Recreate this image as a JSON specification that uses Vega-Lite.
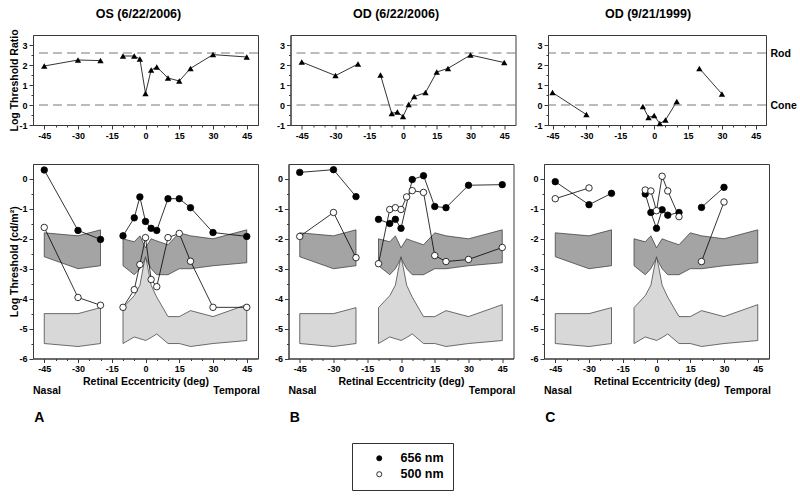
{
  "$schema": "https://vega.github.io/schema/vega-lite/v6.json",
  "padding": {"left": 8, "right": 2, "top": 7, "bottom": 2},
  "background": "white",
  "spacing": 22,
  "config": {
    "font": "Liberation Sans",
    "view": {"stroke": "#3a3a3a", "strokeWidth": 1},
    "axis": {"grid": false, "domainColor": "#3a3a3a", "tickColor": "#3a3a3a", "labelFont": "Liberation Sans", "labelFontWeight": "bold", "labelFontSize": 9, "labelColor": "#000", "titleFont": "Liberation Sans", "titleFontWeight": "bold", "titleFontSize": 10.5, "titleColor": "#000", "labelPadding": 2, "labelOverlap": false, "labelFlush": false},
    "title": {"font": "Liberation Sans", "fontWeight": "bold", "fontSize": 12.5, "color": "#000", "offset": 15, "frame": "group"},
    "text": {"font": "Liberation Sans", "fontWeight": "bold", "color": "#000"}
  },
  "datasets": {
    "ratio": [
      {"panel": "A", "seg": 1, "x": -45, "y": 1.95},
      {"panel": "A", "seg": 1, "x": -30, "y": 2.25},
      {"panel": "A", "seg": 1, "x": -20, "y": 2.22},
      {"panel": "A", "seg": 2, "x": -10, "y": 2.45},
      {"panel": "A", "seg": 2, "x": -5, "y": 2.45},
      {"panel": "A", "seg": 2, "x": -2.5, "y": 2.3},
      {"panel": "A", "seg": 2, "x": 0, "y": 0.58},
      {"panel": "A", "seg": 2, "x": 2.5, "y": 1.75},
      {"panel": "A", "seg": 2, "x": 5, "y": 1.9},
      {"panel": "A", "seg": 2, "x": 10, "y": 1.35},
      {"panel": "A", "seg": 2, "x": 15, "y": 1.2},
      {"panel": "A", "seg": 2, "x": 20, "y": 1.83},
      {"panel": "A", "seg": 2, "x": 30, "y": 2.52},
      {"panel": "A", "seg": 2, "x": 45, "y": 2.4},
      {"panel": "B", "seg": 1, "x": -45, "y": 2.15},
      {"panel": "B", "seg": 1, "x": -30, "y": 1.47},
      {"panel": "B", "seg": 1, "x": -20, "y": 2.05},
      {"panel": "B", "seg": 2, "x": -10, "y": 1.5},
      {"panel": "B", "seg": 2, "x": -5, "y": -0.42},
      {"panel": "B", "seg": 2, "x": -2.5, "y": -0.35},
      {"panel": "B", "seg": 2, "x": 0, "y": -0.57},
      {"panel": "B", "seg": 2, "x": 2.5, "y": 0.02},
      {"panel": "B", "seg": 2, "x": 5, "y": 0.42},
      {"panel": "B", "seg": 2, "x": 10, "y": 0.62},
      {"panel": "B", "seg": 2, "x": 15, "y": 1.65},
      {"panel": "B", "seg": 2, "x": 20, "y": 1.83},
      {"panel": "B", "seg": 2, "x": 30, "y": 2.5},
      {"panel": "B", "seg": 2, "x": 45, "y": 2.12},
      {"panel": "C", "seg": 1, "x": -45, "y": 0.62},
      {"panel": "C", "seg": 1, "x": -30, "y": -0.48},
      {"panel": "C", "seg": 2, "x": -5, "y": -0.07},
      {"panel": "C", "seg": 2, "x": -2.5, "y": -0.62},
      {"panel": "C", "seg": 2, "x": 0, "y": -0.53},
      {"panel": "C", "seg": 2, "x": 2.5, "y": -0.93},
      {"panel": "C", "seg": 2, "x": 5, "y": -0.75},
      {"panel": "C", "seg": 2, "x": 10, "y": 0.17},
      {"panel": "C", "seg": 3, "x": 20, "y": 1.83},
      {"panel": "C", "seg": 3, "x": 30, "y": 0.55}
    ],
    "thr": [
      {"panel": "A", "wave": "656 nm", "seg": 1, "x": -45, "y": 0.3},
      {"panel": "A", "wave": "656 nm", "seg": 1, "x": -30, "y": -1.72},
      {"panel": "A", "wave": "656 nm", "seg": 1, "x": -20, "y": -2.02},
      {"panel": "A", "wave": "656 nm", "seg": 2, "x": -10, "y": -1.9},
      {"panel": "A", "wave": "656 nm", "seg": 2, "x": -5, "y": -1.3},
      {"panel": "A", "wave": "656 nm", "seg": 2, "x": -2.5, "y": -0.6},
      {"panel": "A", "wave": "656 nm", "seg": 2, "x": 0, "y": -1.42},
      {"panel": "A", "wave": "656 nm", "seg": 2, "x": 2.5, "y": -1.65},
      {"panel": "A", "wave": "656 nm", "seg": 2, "x": 5, "y": -1.72},
      {"panel": "A", "wave": "656 nm", "seg": 2, "x": 10, "y": -0.66},
      {"panel": "A", "wave": "656 nm", "seg": 2, "x": 15, "y": -0.66},
      {"panel": "A", "wave": "656 nm", "seg": 2, "x": 20, "y": -0.96},
      {"panel": "A", "wave": "656 nm", "seg": 2, "x": 30, "y": -1.79},
      {"panel": "A", "wave": "656 nm", "seg": 2, "x": 45, "y": -1.92},
      {"panel": "A", "wave": "500 nm", "seg": 1, "x": -45, "y": -1.62},
      {"panel": "A", "wave": "500 nm", "seg": 1, "x": -30, "y": -3.96},
      {"panel": "A", "wave": "500 nm", "seg": 1, "x": -20, "y": -4.22},
      {"panel": "A", "wave": "500 nm", "seg": 2, "x": -10, "y": -4.29},
      {"panel": "A", "wave": "500 nm", "seg": 2, "x": -5, "y": -3.7},
      {"panel": "A", "wave": "500 nm", "seg": 2, "x": -2.5, "y": -2.86},
      {"panel": "A", "wave": "500 nm", "seg": 2, "x": 0, "y": -1.96},
      {"panel": "A", "wave": "500 nm", "seg": 2, "x": 2.5, "y": -3.36},
      {"panel": "A", "wave": "500 nm", "seg": 2, "x": 5, "y": -3.6},
      {"panel": "A", "wave": "500 nm", "seg": 2, "x": 10, "y": -1.96},
      {"panel": "A", "wave": "500 nm", "seg": 2, "x": 15, "y": -1.82},
      {"panel": "A", "wave": "500 nm", "seg": 2, "x": 20, "y": -2.75},
      {"panel": "A", "wave": "500 nm", "seg": 2, "x": 30, "y": -4.29},
      {"panel": "A", "wave": "500 nm", "seg": 2, "x": 45, "y": -4.29},
      {"panel": "B", "wave": "656 nm", "seg": 1, "x": -45, "y": 0.22},
      {"panel": "B", "wave": "656 nm", "seg": 1, "x": -30, "y": 0.31},
      {"panel": "B", "wave": "656 nm", "seg": 1, "x": -20, "y": -0.59},
      {"panel": "B", "wave": "656 nm", "seg": 2, "x": -10, "y": -1.35},
      {"panel": "B", "wave": "656 nm", "seg": 2, "x": -5, "y": -1.49},
      {"panel": "B", "wave": "656 nm", "seg": 2, "x": -2.5, "y": -1.35},
      {"panel": "B", "wave": "656 nm", "seg": 2, "x": 0, "y": -1.65},
      {"panel": "B", "wave": "656 nm", "seg": 2, "x": 5, "y": -0.02},
      {"panel": "B", "wave": "656 nm", "seg": 2, "x": 10, "y": 0.11},
      {"panel": "B", "wave": "656 nm", "seg": 2, "x": 15, "y": -0.92},
      {"panel": "B", "wave": "656 nm", "seg": 2, "x": 20, "y": -0.96},
      {"panel": "B", "wave": "656 nm", "seg": 2, "x": 30, "y": -0.21},
      {"panel": "B", "wave": "656 nm", "seg": 2, "x": 45, "y": -0.19},
      {"panel": "B", "wave": "500 nm", "seg": 1, "x": -45, "y": -1.92},
      {"panel": "B", "wave": "500 nm", "seg": 1, "x": -30, "y": -1.12},
      {"panel": "B", "wave": "500 nm", "seg": 1, "x": -20, "y": -2.63},
      {"panel": "B", "wave": "500 nm", "seg": 2, "x": -10, "y": -2.83},
      {"panel": "B", "wave": "500 nm", "seg": 2, "x": -5, "y": -1.02},
      {"panel": "B", "wave": "500 nm", "seg": 2, "x": -2.5, "y": -0.96},
      {"panel": "B", "wave": "500 nm", "seg": 2, "x": 0, "y": -1.02},
      {"panel": "B", "wave": "500 nm", "seg": 2, "x": 2.5, "y": -0.6},
      {"panel": "B", "wave": "500 nm", "seg": 2, "x": 5, "y": -0.39},
      {"panel": "B", "wave": "500 nm", "seg": 2, "x": 10, "y": -0.45},
      {"panel": "B", "wave": "500 nm", "seg": 2, "x": 15, "y": -2.56},
      {"panel": "B", "wave": "500 nm", "seg": 2, "x": 20, "y": -2.76},
      {"panel": "B", "wave": "500 nm", "seg": 2, "x": 30, "y": -2.69},
      {"panel": "B", "wave": "500 nm", "seg": 2, "x": 45, "y": -2.29},
      {"panel": "C", "wave": "656 nm", "seg": 1, "x": -45, "y": -0.09},
      {"panel": "C", "wave": "656 nm", "seg": 1, "x": -30, "y": -0.86},
      {"panel": "C", "wave": "656 nm", "seg": 1, "x": -20, "y": -0.48},
      {"panel": "C", "wave": "656 nm", "seg": 2, "x": -5, "y": -0.5},
      {"panel": "C", "wave": "656 nm", "seg": 2, "x": -2.5, "y": -1.12},
      {"panel": "C", "wave": "656 nm", "seg": 2, "x": 0, "y": -1.65},
      {"panel": "C", "wave": "656 nm", "seg": 2, "x": 2.5, "y": -1.03},
      {"panel": "C", "wave": "656 nm", "seg": 2, "x": 5, "y": -1.21},
      {"panel": "C", "wave": "656 nm", "seg": 2, "x": 10, "y": -1.12},
      {"panel": "C", "wave": "656 nm", "seg": 3, "x": 20, "y": -0.95},
      {"panel": "C", "wave": "656 nm", "seg": 3, "x": 30, "y": -0.28},
      {"panel": "C", "wave": "500 nm", "seg": 1, "x": -45, "y": -0.66},
      {"panel": "C", "wave": "500 nm", "seg": 1, "x": -30, "y": -0.3},
      {"panel": "C", "wave": "500 nm", "seg": 2, "x": -5, "y": -0.37},
      {"panel": "C", "wave": "500 nm", "seg": 2, "x": -2.5, "y": -0.4},
      {"panel": "C", "wave": "500 nm", "seg": 2, "x": 0, "y": -1.06},
      {"panel": "C", "wave": "500 nm", "seg": 2, "x": 2.5, "y": 0.09},
      {"panel": "C", "wave": "500 nm", "seg": 2, "x": 5, "y": -0.4},
      {"panel": "C", "wave": "500 nm", "seg": 2, "x": 10, "y": -1.26},
      {"panel": "C", "wave": "500 nm", "seg": 3, "x": 20, "y": -2.76},
      {"panel": "C", "wave": "500 nm", "seg": 3, "x": 30, "y": -0.77}
    ],
    "bands": [
      {"band": "cone", "part": "L", "x": -45, "lo": -2.6, "hi": -1.8},
      {"band": "cone", "part": "L", "x": -30, "lo": -3.0, "hi": -1.9},
      {"band": "cone", "part": "L", "x": -20, "lo": -2.9, "hi": -1.7},
      {"band": "cone", "part": "R", "x": -10, "lo": -2.9, "hi": -2.0},
      {"band": "cone", "part": "R", "x": -5, "lo": -3.2, "hi": -2.1},
      {"band": "cone", "part": "R", "x": -2.5, "lo": -3.0, "hi": -1.9},
      {"band": "cone", "part": "R", "x": 0, "lo": -2.65, "hi": -2.3},
      {"band": "cone", "part": "R", "x": 2.5, "lo": -3.0, "hi": -2.0},
      {"band": "cone", "part": "R", "x": 5, "lo": -3.2, "hi": -2.07},
      {"band": "cone", "part": "R", "x": 10, "lo": -3.2, "hi": -2.2},
      {"band": "cone", "part": "R", "x": 15, "lo": -3.0, "hi": -1.8},
      {"band": "cone", "part": "R", "x": 20, "lo": -3.0, "hi": -1.9},
      {"band": "cone", "part": "R", "x": 30, "lo": -2.9, "hi": -2.0},
      {"band": "cone", "part": "R", "x": 45, "lo": -2.8, "hi": -1.7},
      {"band": "rod", "part": "L", "x": -45, "lo": -5.5, "hi": -4.5},
      {"band": "rod", "part": "L", "x": -30, "lo": -5.6, "hi": -4.5},
      {"band": "rod", "part": "L", "x": -20, "lo": -5.5, "hi": -4.3},
      {"band": "rod", "part": "R", "x": -10, "lo": -5.5, "hi": -4.3},
      {"band": "rod", "part": "R", "x": -5, "lo": -5.28, "hi": -3.9},
      {"band": "rod", "part": "R", "x": -2.5, "lo": -5.34, "hi": -3.55},
      {"band": "rod", "part": "R", "x": -1, "lo": -5.37, "hi": -2.95},
      {"band": "rod", "part": "R", "x": 0, "lo": -5.4, "hi": -2.6},
      {"band": "rod", "part": "R", "x": 1, "lo": -5.36, "hi": -2.95},
      {"band": "rod", "part": "R", "x": 2.5, "lo": -5.3, "hi": -3.55},
      {"band": "rod", "part": "R", "x": 5, "lo": -5.18, "hi": -3.95},
      {"band": "rod", "part": "R", "x": 10, "lo": -5.5, "hi": -4.6},
      {"band": "rod", "part": "R", "x": 15, "lo": -5.5, "hi": -4.6},
      {"band": "rod", "part": "R", "x": 20, "lo": -5.6, "hi": -4.4},
      {"band": "rod", "part": "R", "x": 30, "lo": -5.5, "hi": -4.6},
      {"band": "rod", "part": "R", "x": 45, "lo": -5.4, "hi": -4.2}
    ]
  },
  "vconcat": [
    {
      "bounds": "flush",
      "spacing": 32.5,
      "hconcat": [
        {
          "width": 225, "height": 90,
          "title": {"text": "OS (6/22/2006)", "dx": -7, "offset": 8},
          "layer": [
            {"data": {"values": [{"ref": 2.6}, {"ref": 0}]},
             "mark": {"type": "rule", "color": "#555", "strokeWidth": 0.8, "strokeDash": [9, 5]},
             "encoding": {"y": {"field": "ref", "type": "quantitative", "scale": {"domain": [-1, 3.5], "nice": false, "zero": false}, "axis": {"title": "Log Threshold Ratio", "titleX": -19, "titleBaseline": "middle", "labelOverlap": false, "values": [-1, -0.5, 0, 0.5, 1, 1.5, 2, 2.5, 3], "labelExpr": "datum.value % 1 === 0 ? '' + datum.value : ''", "tickSize": {"condition": {"test": "datum.value % 1 === 0", "value": 4}, "value": 2}}}}},
            {"data": {"name": "ratio"}, "transform": [{"filter": "datum.panel === 'A'"}],
             "mark": {"type": "line", "color": "#000", "strokeWidth": 0.8},
             "encoding": {
               "x": {"field": "x", "type": "quantitative", "scale": {"domain": [-50, 50], "nice": false, "zero": false}, "axis": {"title": null, "labelOverlap": false, "values": [-45, -40, -35, -30, -25, -20, -15, -10, -5, 0, 5, 10, 15, 20, 25, 30, 35, 40, 45], "labelExpr": "datum.value % 15 === 0 ? '' + datum.value : ''", "tickSize": {"condition": {"test": "datum.value % 15 === 0", "value": 4}, "value": 2}}},
               "y": {"field": "y", "type": "quantitative", "scale": {"domain": [-1, 3.5], "nice": false, "zero": false}, "axis": {"title": "Log Threshold Ratio", "titleX": -19, "titleBaseline": "middle", "labelOverlap": false, "values": [-1, -0.5, 0, 0.5, 1, 1.5, 2, 2.5, 3], "labelExpr": "datum.value % 1 === 0 ? '' + datum.value : ''", "tickSize": {"condition": {"test": "datum.value % 1 === 0", "value": 4}, "value": 2}}},
               "detail": {"field": "seg"}}},
            {"data": {"name": "ratio"}, "transform": [{"filter": "datum.panel === 'A'"}],
             "mark": {"type": "point", "shape": "triangle-up", "filled": true, "size": 40, "color": "#000", "opacity": 1},
             "encoding": {
               "x": {"field": "x", "type": "quantitative", "scale": {"domain": [-50, 50], "nice": false, "zero": false}, "axis": {"title": null, "labelOverlap": false, "values": [-45, -40, -35, -30, -25, -20, -15, -10, -5, 0, 5, 10, 15, 20, 25, 30, 35, 40, 45], "labelExpr": "datum.value % 15 === 0 ? '' + datum.value : ''", "tickSize": {"condition": {"test": "datum.value % 15 === 0", "value": 4}, "value": 2}}},
               "y": {"field": "y", "type": "quantitative", "scale": {"domain": [-1, 3.5], "nice": false, "zero": false}, "axis": {"title": "Log Threshold Ratio", "titleX": -19, "titleBaseline": "middle", "labelOverlap": false, "values": [-1, -0.5, 0, 0.5, 1, 1.5, 2, 2.5, 3], "labelExpr": "datum.value % 1 === 0 ? '' + datum.value : ''", "tickSize": {"condition": {"test": "datum.value % 1 === 0", "value": 4}, "value": 2}}}}}
          ]
        },
        {
          "width": 225, "height": 90,
          "title": {"text": "OD (6/22/2006)", "dx": -7},
          "layer": [
            {"data": {"values": [{"ref": 2.6}, {"ref": 0}]},
             "mark": {"type": "rule", "color": "#555", "strokeWidth": 0.8, "strokeDash": [9, 5]},
             "encoding": {"y": {"field": "ref", "type": "quantitative", "scale": {"domain": [-1, 3.5], "nice": false, "zero": false}, "axis": {"title": null, "labelOverlap": false, "values": [-1, -0.5, 0, 0.5, 1, 1.5, 2, 2.5, 3], "labelExpr": "datum.value % 1 === 0 ? '' + datum.value : ''", "tickSize": {"condition": {"test": "datum.value % 1 === 0", "value": 4}, "value": 2}}}}},
            {"data": {"name": "ratio"}, "transform": [{"filter": "datum.panel === 'B'"}],
             "mark": {"type": "line", "color": "#000", "strokeWidth": 0.8},
             "encoding": {
               "x": {"field": "x", "type": "quantitative", "scale": {"domain": [-50, 50], "nice": false, "zero": false}, "axis": {"title": null, "labelOverlap": false, "values": [-45, -40, -35, -30, -25, -20, -15, -10, -5, 0, 5, 10, 15, 20, 25, 30, 35, 40, 45], "labelExpr": "datum.value % 15 === 0 ? '' + datum.value : ''", "tickSize": {"condition": {"test": "datum.value % 15 === 0", "value": 4}, "value": 2}}},
               "y": {"field": "y", "type": "quantitative", "scale": {"domain": [-1, 3.5], "nice": false, "zero": false}, "axis": {"title": null, "labelOverlap": false, "values": [-1, -0.5, 0, 0.5, 1, 1.5, 2, 2.5, 3], "labelExpr": "datum.value % 1 === 0 ? '' + datum.value : ''", "tickSize": {"condition": {"test": "datum.value % 1 === 0", "value": 4}, "value": 2}}},
               "detail": {"field": "seg"}}},
            {"data": {"name": "ratio"}, "transform": [{"filter": "datum.panel === 'B'"}],
             "mark": {"type": "point", "shape": "triangle-up", "filled": true, "size": 40, "color": "#000", "opacity": 1},
             "encoding": {
               "x": {"field": "x", "type": "quantitative", "scale": {"domain": [-50, 50], "nice": false, "zero": false}, "axis": {"title": null, "labelOverlap": false, "values": [-45, -40, -35, -30, -25, -20, -15, -10, -5, 0, 5, 10, 15, 20, 25, 30, 35, 40, 45], "labelExpr": "datum.value % 15 === 0 ? '' + datum.value : ''", "tickSize": {"condition": {"test": "datum.value % 15 === 0", "value": 4}, "value": 2}}},
               "y": {"field": "y", "type": "quantitative", "scale": {"domain": [-1, 3.5], "nice": false, "zero": false}, "axis": {"title": null, "labelOverlap": false, "values": [-1, -0.5, 0, 0.5, 1, 1.5, 2, 2.5, 3], "labelExpr": "datum.value % 1 === 0 ? '' + datum.value : ''", "tickSize": {"condition": {"test": "datum.value % 1 === 0", "value": 4}, "value": 2}}}}}
          ]
        },
        {
          "width": 218, "height": 90,
          "title": {"text": "OD (9/21/1999)", "dx": -9},
          "resolve": {"axis": {"y": "independent"}},
          "layer": [
            {"data": {"name": "ratio"}, "transform": [{"filter": "datum.panel === 'C'"}],
             "mark": {"type": "line", "color": "#000", "strokeWidth": 0.8},
             "encoding": {
               "x": {"field": "x", "type": "quantitative", "scale": {"domain": [-47, 49.5], "nice": false, "zero": false}, "axis": {"title": null, "labelOverlap": false, "values": [-45, -40, -35, -30, -25, -20, -15, -10, -5, 0, 5, 10, 15, 20, 25, 30, 35, 40, 45], "labelExpr": "datum.value % 15 === 0 ? '' + datum.value : ''", "tickSize": {"condition": {"test": "datum.value % 15 === 0", "value": 4}, "value": 2}}},
               "y": {"field": "y", "type": "quantitative", "scale": {"domain": [-1, 3.5], "nice": false, "zero": false}, "axis": {"title": null, "labelOverlap": false, "values": [-1, -0.5, 0, 0.5, 1, 1.5, 2, 2.5, 3], "labelExpr": "datum.value % 1 === 0 ? '' + datum.value : ''", "tickSize": {"condition": {"test": "datum.value % 1 === 0", "value": 4}, "value": 2}}},
               "detail": {"field": "seg"}}},
            {"data": {"values": [{"ref": 2.6}, {"ref": 0}]},
             "mark": {"type": "rule", "color": "#555", "strokeWidth": 0.8, "strokeDash": [9, 5]},
             "encoding": {"y": {"field": "ref", "type": "quantitative", "scale": {"domain": [-1, 3.5], "nice": false, "zero": false}, "axis": {"orient": "right", "title": null, "values": [0, 2.6], "labelExpr": "datum.value > 1 ? 'Rod' : 'Cone'", "ticks": false, "domain": false, "labelFontSize": 10.5, "labelPadding": 4}}}},
            {"data": {"name": "ratio"}, "transform": [{"filter": "datum.panel === 'C'"}],
             "mark": {"type": "point", "shape": "triangle-up", "filled": true, "size": 40, "color": "#000", "opacity": 1},
             "encoding": {
               "x": {"field": "x", "type": "quantitative", "scale": {"domain": [-47, 49.5], "nice": false, "zero": false}, "axis": {"title": null, "labelOverlap": false, "values": [-45, -40, -35, -30, -25, -20, -15, -10, -5, 0, 5, 10, 15, 20, 25, 30, 35, 40, 45], "labelExpr": "datum.value % 15 === 0 ? '' + datum.value : ''", "tickSize": {"condition": {"test": "datum.value % 15 === 0", "value": 4}, "value": 2}}},
               "y": {"field": "y", "type": "quantitative", "scale": {"domain": [-1, 3.5], "nice": false, "zero": false}, "axis": null}}}
          ]
        }
      ]
    },
    {
      "bounds": "flush",
      "spacing": 30.5,
      "hconcat": [
        {
          "width": 225, "height": 194.5,
          "resolve": {"axis": {"x": "independent", "y": "independent"}},
          "layer": [
            {"data": {"name": "bands"}, "transform": [{"filter": "datum.band === 'cone'"}],
             "mark": {"type": "area", "fill": "#a4a4a4", "stroke": "#333", "strokeWidth": 0.7},
             "encoding": {
               "x": {"field": "x", "type": "quantitative", "scale": {"domain": [-50, 50], "nice": false, "zero": false}, "axis": null},
               "y": {"field": "hi", "type": "quantitative", "scale": {"domain": [-6, 0.5], "nice": false, "zero": false}, "axis": null},
               "y2": {"field": "lo"},
               "detail": {"field": "part"}}},
            {"data": {"name": "bands"}, "transform": [{"filter": "datum.band === 'rod'"}],
             "mark": {"type": "area", "fill": "#d8d8d8", "stroke": "#333", "strokeWidth": 0.7},
             "encoding": {
               "x": {"field": "x", "type": "quantitative", "scale": {"domain": [-50, 50], "nice": false, "zero": false}, "axis": null},
               "y": {"field": "hi", "type": "quantitative", "scale": {"domain": [-6, 0.5], "nice": false, "zero": false}, "axis": null},
               "y2": {"field": "lo"},
               "detail": {"field": "part"}}},
            {"data": {"name": "thr"}, "transform": [{"filter": "datum.panel === 'A'"}],
             "mark": {"type": "line", "color": "#000", "strokeWidth": 0.8},
             "encoding": {
               "x": {"field": "x", "type": "quantitative", "scale": {"domain": [-50, 50], "nice": false, "zero": false}, "axis": null},
               "y": {"field": "y", "type": "quantitative", "scale": {"domain": [-6, 0.5], "nice": false, "zero": false}, "axis": null},
               "detail": [{"field": "wave"}, {"field": "seg"}]}},
            {"data": {"name": "thr"}, "transform": [{"filter": "datum.panel === 'A'"}],
             "mark": {"type": "point", "shape": "circle", "filled": true, "size": 42, "stroke": "#000", "strokeWidth": 0.8, "opacity": 1},
             "encoding": {
               "x": {"field": "x", "type": "quantitative", "scale": {"domain": [-50, 50], "nice": false, "zero": false}, "axis": {"title": "Retinal Eccentricity (deg)", "titlePadding": 3, "labelOverlap": false, "values": [-45, -40, -35, -30, -25, -20, -15, -10, -5, 0, 5, 10, 15, 20, 25, 30, 35, 40, 45], "labelExpr": "datum.value % 15 === 0 ? '' + datum.value : ''", "tickSize": {"condition": {"test": "datum.value % 15 === 0", "value": 4}, "value": 2}}},
               "y": {"field": "y", "type": "quantitative", "scale": {"domain": [-6, 0.5], "nice": false, "zero": false}, "axis": {"title": "Log Threshold (cd/m²)", "titleX": -19, "titleBaseline": "middle", "labelOverlap": false, "values": [-6, -5.5, -5, -4.5, -4, -3.5, -3, -2.5, -2, -1.5, -1, -0.5, 0], "labelExpr": "datum.value % 1 === 0 ? '' + datum.value : ''", "tickSize": {"condition": {"test": "datum.value % 1 === 0", "value": 4}, "value": 2}}},
               "fill": {"field": "wave", "type": "nominal", "scale": {"domain": ["656 nm", "500 nm"], "range": ["#000000", "#ffffff"]}, "legend": {"title": null, "orient": "none", "legendX": 319, "legendY": 408, "strokeColor": "#333", "fillColor": "#fff", "padding": 9, "symbolType": "circle", "symbolSize": 26, "symbolStrokeColor": "#000", "symbolStrokeWidth": 0.8, "symbolOffset": 12, "labelOffset": 15, "labelFont": "Liberation Sans", "labelFontWeight": "bold", "labelFontSize": 12.5, "labelColor": "#000", "rowPadding": 3}}}},
            {"data": {"values": [{}]},
             "mark": {"type": "text", "align": "left", "baseline": "middle", "fontSize": 10.5},
             "encoding": {"x": {"datum": -50, "type": "quantitative", "scale": {"domain": [-50, 50], "nice": false, "zero": false}, "axis": null}, "y": {"datum": -7.08, "type": "quantitative", "scale": {"domain": [-6, 0.5], "nice": false, "zero": false}, "axis": null}, "text": {"value": "Nasal"}}},
            {"data": {"values": [{}]},
             "mark": {"type": "text", "align": "right", "baseline": "middle", "fontSize": 10.5},
             "encoding": {"x": {"datum": 50.8, "type": "quantitative", "scale": {"domain": [-50, 50], "nice": false, "zero": false}, "axis": null}, "y": {"datum": -7.08, "type": "quantitative", "scale": {"domain": [-6, 0.5], "nice": false, "zero": false}, "axis": null}, "text": {"value": "Temporal"}}},
            {"data": {"values": [{}]},
             "mark": {"type": "text", "align": "left", "baseline": "middle", "fontSize": 14},
             "encoding": {"x": {"datum": -49.5, "type": "quantitative", "scale": {"domain": [-50, 50], "nice": false, "zero": false}, "axis": null}, "y": {"datum": -7.99, "type": "quantitative", "scale": {"domain": [-6, 0.5], "nice": false, "zero": false}, "axis": null}, "text": {"value": "A"}}}
          ]
        },
        {
          "width": 225, "height": 194.5,
          "resolve": {"axis": {"x": "independent", "y": "independent"}},
          "layer": [
            {"data": {"name": "bands"}, "transform": [{"filter": "datum.band === 'cone'"}],
             "mark": {"type": "area", "fill": "#a4a4a4", "stroke": "#333", "strokeWidth": 0.7},
             "encoding": {
               "x": {"field": "x", "type": "quantitative", "scale": {"domain": [-50, 50], "nice": false, "zero": false}, "axis": null},
               "y": {"field": "hi", "type": "quantitative", "scale": {"domain": [-6, 0.5], "nice": false, "zero": false}, "axis": null},
               "y2": {"field": "lo"},
               "detail": {"field": "part"}}},
            {"data": {"name": "bands"}, "transform": [{"filter": "datum.band === 'rod'"}],
             "mark": {"type": "area", "fill": "#d8d8d8", "stroke": "#333", "strokeWidth": 0.7},
             "encoding": {
               "x": {"field": "x", "type": "quantitative", "scale": {"domain": [-50, 50], "nice": false, "zero": false}, "axis": null},
               "y": {"field": "hi", "type": "quantitative", "scale": {"domain": [-6, 0.5], "nice": false, "zero": false}, "axis": null},
               "y2": {"field": "lo"},
               "detail": {"field": "part"}}},
            {"data": {"name": "thr"}, "transform": [{"filter": "datum.panel === 'B'"}],
             "mark": {"type": "line", "color": "#000", "strokeWidth": 0.8},
             "encoding": {
               "x": {"field": "x", "type": "quantitative", "scale": {"domain": [-50, 50], "nice": false, "zero": false}, "axis": null},
               "y": {"field": "y", "type": "quantitative", "scale": {"domain": [-6, 0.5], "nice": false, "zero": false}, "axis": null},
               "detail": [{"field": "wave"}, {"field": "seg"}]}},
            {"data": {"name": "thr"}, "transform": [{"filter": "datum.panel === 'B'"}],
             "mark": {"type": "point", "shape": "circle", "filled": true, "size": 42, "stroke": "#000", "strokeWidth": 0.8, "opacity": 1},
             "encoding": {
               "x": {"field": "x", "type": "quantitative", "scale": {"domain": [-50, 50], "nice": false, "zero": false}, "axis": {"title": "Retinal Eccentricity (deg)", "titlePadding": 3, "labelOverlap": false, "values": [-45, -40, -35, -30, -25, -20, -15, -10, -5, 0, 5, 10, 15, 20, 25, 30, 35, 40, 45], "labelExpr": "datum.value % 15 === 0 ? '' + datum.value : ''", "tickSize": {"condition": {"test": "datum.value % 15 === 0", "value": 4}, "value": 2}}},
               "y": {"field": "y", "type": "quantitative", "scale": {"domain": [-6, 0.5], "nice": false, "zero": false}, "axis": {"title": null, "labelOverlap": false, "values": [-6, -5.5, -5, -4.5, -4, -3.5, -3, -2.5, -2, -1.5, -1, -0.5, 0], "labelExpr": "datum.value % 1 === 0 ? '' + datum.value : ''", "tickSize": {"condition": {"test": "datum.value % 1 === 0", "value": 4}, "value": 2}}},
               "fill": {"field": "wave", "type": "nominal", "scale": {"domain": ["656 nm", "500 nm"], "range": ["#000000", "#ffffff"]}, "legend": {"title": null, "orient": "none", "legendX": 319, "legendY": 408, "strokeColor": "#333", "fillColor": "#fff", "padding": 9, "symbolType": "circle", "symbolSize": 26, "symbolStrokeColor": "#000", "symbolStrokeWidth": 0.8, "symbolOffset": 12, "labelOffset": 15, "labelFont": "Liberation Sans", "labelFontWeight": "bold", "labelFontSize": 12.5, "labelColor": "#000", "rowPadding": 3}}}},
            {"data": {"values": [{}]},
             "mark": {"type": "text", "align": "left", "baseline": "middle", "fontSize": 10.5},
             "encoding": {"x": {"datum": -50, "type": "quantitative", "scale": {"domain": [-50, 50], "nice": false, "zero": false}, "axis": null}, "y": {"datum": -7.08, "type": "quantitative", "scale": {"domain": [-6, 0.5], "nice": false, "zero": false}, "axis": null}, "text": {"value": "Nasal"}}},
            {"data": {"values": [{}]},
             "mark": {"type": "text", "align": "right", "baseline": "middle", "fontSize": 10.5},
             "encoding": {"x": {"datum": 50.8, "type": "quantitative", "scale": {"domain": [-50, 50], "nice": false, "zero": false}, "axis": null}, "y": {"datum": -7.08, "type": "quantitative", "scale": {"domain": [-6, 0.5], "nice": false, "zero": false}, "axis": null}, "text": {"value": "Temporal"}}},
            {"data": {"values": [{}]},
             "mark": {"type": "text", "align": "left", "baseline": "middle", "fontSize": 14},
             "encoding": {"x": {"datum": -49.5, "type": "quantitative", "scale": {"domain": [-50, 50], "nice": false, "zero": false}, "axis": null}, "y": {"datum": -7.99, "type": "quantitative", "scale": {"domain": [-6, 0.5], "nice": false, "zero": false}, "axis": null}, "text": {"value": "B"}}}
          ]
        },
        {
          "width": 225, "height": 194.5,
          "resolve": {"axis": {"x": "independent", "y": "independent"}},
          "layer": [
            {"data": {"name": "bands"}, "transform": [{"filter": "datum.band === 'cone'"}],
             "mark": {"type": "area", "fill": "#a4a4a4", "stroke": "#333", "strokeWidth": 0.7},
             "encoding": {
               "x": {"field": "x", "type": "quantitative", "scale": {"domain": [-50, 50], "nice": false, "zero": false}, "axis": null},
               "y": {"field": "hi", "type": "quantitative", "scale": {"domain": [-6, 0.5], "nice": false, "zero": false}, "axis": null},
               "y2": {"field": "lo"},
               "detail": {"field": "part"}}},
            {"data": {"name": "bands"}, "transform": [{"filter": "datum.band === 'rod'"}],
             "mark": {"type": "area", "fill": "#d8d8d8", "stroke": "#333", "strokeWidth": 0.7},
             "encoding": {
               "x": {"field": "x", "type": "quantitative", "scale": {"domain": [-50, 50], "nice": false, "zero": false}, "axis": null},
               "y": {"field": "hi", "type": "quantitative", "scale": {"domain": [-6, 0.5], "nice": false, "zero": false}, "axis": null},
               "y2": {"field": "lo"},
               "detail": {"field": "part"}}},
            {"data": {"name": "thr"}, "transform": [{"filter": "datum.panel === 'C'"}],
             "mark": {"type": "line", "color": "#000", "strokeWidth": 0.8},
             "encoding": {
               "x": {"field": "x", "type": "quantitative", "scale": {"domain": [-50, 50], "nice": false, "zero": false}, "axis": null},
               "y": {"field": "y", "type": "quantitative", "scale": {"domain": [-6, 0.5], "nice": false, "zero": false}, "axis": null},
               "detail": [{"field": "wave"}, {"field": "seg"}]}},
            {"data": {"name": "thr"}, "transform": [{"filter": "datum.panel === 'C'"}],
             "mark": {"type": "point", "shape": "circle", "filled": true, "size": 42, "stroke": "#000", "strokeWidth": 0.8, "opacity": 1},
             "encoding": {
               "x": {"field": "x", "type": "quantitative", "scale": {"domain": [-50, 50], "nice": false, "zero": false}, "axis": {"title": "Retinal Eccentricity (deg)", "titlePadding": 3, "labelOverlap": false, "values": [-45, -40, -35, -30, -25, -20, -15, -10, -5, 0, 5, 10, 15, 20, 25, 30, 35, 40, 45], "labelExpr": "datum.value % 15 === 0 ? '' + datum.value : ''", "tickSize": {"condition": {"test": "datum.value % 15 === 0", "value": 4}, "value": 2}}},
               "y": {"field": "y", "type": "quantitative", "scale": {"domain": [-6, 0.5], "nice": false, "zero": false}, "axis": {"title": null, "labelOverlap": false, "values": [-6, -5.5, -5, -4.5, -4, -3.5, -3, -2.5, -2, -1.5, -1, -0.5, 0], "labelExpr": "datum.value % 1 === 0 ? '' + datum.value : ''", "tickSize": {"condition": {"test": "datum.value % 1 === 0", "value": 4}, "value": 2}}},
               "fill": {"field": "wave", "type": "nominal", "scale": {"domain": ["656 nm", "500 nm"], "range": ["#000000", "#ffffff"]}, "legend": {"title": null, "orient": "none", "legendX": 319, "legendY": 408, "strokeColor": "#333", "fillColor": "#fff", "padding": 9, "symbolType": "circle", "symbolSize": 26, "symbolStrokeColor": "#000", "symbolStrokeWidth": 0.8, "symbolOffset": 12, "labelOffset": 15, "labelFont": "Liberation Sans", "labelFontWeight": "bold", "labelFontSize": 12.5, "labelColor": "#000", "rowPadding": 3}}}},
            {"data": {"values": [{}]},
             "mark": {"type": "text", "align": "left", "baseline": "middle", "fontSize": 10.5},
             "encoding": {"x": {"datum": -50, "type": "quantitative", "scale": {"domain": [-50, 50], "nice": false, "zero": false}, "axis": null}, "y": {"datum": -7.08, "type": "quantitative", "scale": {"domain": [-6, 0.5], "nice": false, "zero": false}, "axis": null}, "text": {"value": "Nasal"}}},
            {"data": {"values": [{}]},
             "mark": {"type": "text", "align": "right", "baseline": "middle", "fontSize": 10.5},
             "encoding": {"x": {"datum": 50.8, "type": "quantitative", "scale": {"domain": [-50, 50], "nice": false, "zero": false}, "axis": null}, "y": {"datum": -7.08, "type": "quantitative", "scale": {"domain": [-6, 0.5], "nice": false, "zero": false}, "axis": null}, "text": {"value": "Temporal"}}},
            {"data": {"values": [{}]},
             "mark": {"type": "text", "align": "left", "baseline": "middle", "fontSize": 14},
             "encoding": {"x": {"datum": -49.5, "type": "quantitative", "scale": {"domain": [-50, 50], "nice": false, "zero": false}, "axis": null}, "y": {"datum": -7.99, "type": "quantitative", "scale": {"domain": [-6, 0.5], "nice": false, "zero": false}, "axis": null}, "text": {"value": "C"}}}
          ]
        }
      ]
    }
  ]
}
